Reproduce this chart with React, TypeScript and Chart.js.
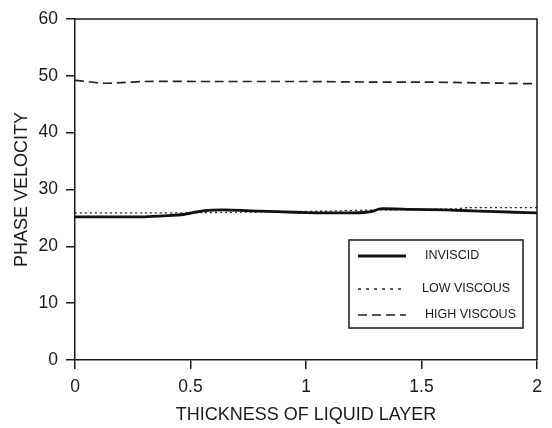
import React, { useEffect, useRef } from "react";
import { Chart, registerables } from "chart.js";

Chart.register(...registerables);

const seriesNames = ["INVISCID", "LOW VISCOUS", "HIGH VISCOUS"];

const inviscidX = [0, 0.15, 0.3, 0.4, 0.47, 0.52, 0.56, 0.65, 0.8, 0.95, 1.05, 1.2, 1.26, 1.29, 1.32, 1.45, 1.6, 1.75, 1.9, 2.0];
const inviscidY = [25.2, 25.2, 25.2, 25.4, 25.6, 26.0, 26.3, 26.4, 26.2, 26.0, 25.9, 25.9, 26.0, 26.2, 26.6, 26.5, 26.4, 26.2, 26.0, 25.9];

const lowX = [0, 0.3, 0.5, 0.7, 0.9, 1.1, 1.3, 1.5, 1.65, 1.7, 1.85, 2.0];
const lowY = [25.9, 25.9, 25.9, 26.0, 26.1, 26.2, 26.4, 26.5, 26.6, 26.8, 26.8, 26.8];

const highX = [0, 0.05, 0.12, 0.2, 0.3, 0.6, 1.0, 1.3, 1.5, 1.7, 1.85, 2.0];
const highY = [49.2, 49.0, 48.7, 48.8, 49.0, 49.0, 49.0, 48.9, 48.9, 48.8, 48.7, 48.6];

const xTicks = [0, 0.5, 1, 1.5, 2];
const yTicks = [0, 10, 20, 30, 40, 50, 60];

const xTitle = "THICKNESS OF LIQUID LAYER";
const yTitle = "PHASE VELOCITY";

const toPoints = (xs: number[], ys: number[]) => xs.map((x, i) => ({ x, y: ys[i] }));

const FONT = "'Liberation Sans', Arial, sans-serif";
const INK = "#1a1a1a";

const framePlugin = {
  id: "frame",
  afterDraw(chart: any) {
    const { ctx, chartArea } = chart;
    ctx.save();
    ctx.strokeStyle = INK;
    ctx.lineWidth = 1.5;
    ctx.beginPath();
    ctx.moveTo(chartArea.left, chartArea.top);
    ctx.lineTo(chartArea.right, chartArea.top);
    ctx.lineTo(chartArea.right, chartArea.bottom);
    ctx.stroke();
    ctx.restore();
  },
};

const legendDashes = [[], [3, 5], [9, 5]];

const legendPlugin = {
  id: "boxLegend",
  afterDraw(chart: any) {
    const { ctx, chartArea } = chart;
    const left = chartArea.right - 188;
    const top = chartArea.top + 221;
    const w = 174;
    const h = 88;
    ctx.save();
    ctx.fillStyle = "#fff";
    ctx.fillRect(left, top, w, h);
    ctx.strokeStyle = INK;
    ctx.lineWidth = 1.5;
    ctx.strokeRect(left, top, w, h);
    const rows = [16, 49, 75];
    const textX = [76, 73, 76];
    chart.data.datasets.forEach((ds: any, i: number) => {
      const y = top + rows[i];
      ctx.strokeStyle = ds.borderColor;
      ctx.lineWidth = Math.max(ds.borderWidth, 1.5);
      ctx.setLineDash(legendDashes[i]);
      ctx.beginPath();
      ctx.moveTo(left + 9, y);
      ctx.lineTo(left + 57, y);
      ctx.stroke();
      ctx.setLineDash([]);
      ctx.fillStyle = INK;
      ctx.font = `12.5px ${FONT}`;
      ctx.textBaseline = "middle";
      ctx.textAlign = "left";
      ctx.fillText(ds.label, left + textX[i], y);
    });
    ctx.restore();
  },
};

export default function App() {
  const ref = useRef<HTMLCanvasElement | null>(null);
  useEffect(() => {
    if (!ref.current) return;
    const chart = new Chart(ref.current, {
      type: "line",
      data: {
        datasets: [
          {
            label: seriesNames[0],
            data: toPoints(inviscidX, inviscidY),
            borderColor: "#111",
            borderWidth: 2.8,
            pointRadius: 0,
            tension: 0.2,
          },
          {
            label: seriesNames[1],
            data: toPoints(lowX, lowY),
            borderColor: "#222",
            borderWidth: 1.3,
            borderDash: [2, 3],
            pointRadius: 0,
            tension: 0.2,
          },
          {
            label: seriesNames[2],
            data: toPoints(highX, highY),
            borderColor: "#222",
            borderWidth: 1.7,
            borderDash: [9, 5],
            pointRadius: 0,
            tension: 0.2,
          },
        ],
      },
      options: {
        animation: false,
        responsive: true,
        maintainAspectRatio: false,
        layout: { padding: { top: 19, right: 15, left: 0, bottom: 0 } },
        plugins: { legend: { display: false }, tooltip: { enabled: false } },
        scales: {
          x: {
            type: "linear",
            min: 0,
            max: 2,
            afterBuildTicks: (scale: any) => {
              scale.ticks = xTicks.map((v) => ({ value: v }));
            },
            afterFit: (scale: any) => {
              scale.height = 68;
            },
            ticks: {
              color: INK,
              font: { family: FONT, size: 17.5 },
              padding: 8,
              maxRotation: 0,
              callback: (v: any) => String(v),
            },
            grid: { drawOnChartArea: false, drawTicks: true, tickLength: 9, color: INK, lineWidth: 1.5 },
            border: { display: true, color: INK, width: 1.5 },
            title: {
              display: true,
              text: xTitle,
              color: INK,
              font: { family: FONT, size: 18 },
              padding: { top: 0, bottom: 2 },
            },
          },
          y: {
            type: "linear",
            min: 0,
            max: 60,
            afterBuildTicks: (scale: any) => {
              scale.ticks = yTicks.map((v) => ({ value: v }));
            },
            afterFit: (scale: any) => {
              scale.width = 75;
            },
            ticks: {
              color: INK,
              font: { family: FONT, size: 17.5 },
              padding: 8,
            },
            grid: { drawOnChartArea: false, drawTicks: true, tickLength: 9, color: INK, lineWidth: 1.5 },
            border: { display: true, color: INK, width: 1.5 },
            title: {
              display: true,
              text: yTitle,
              color: INK,
              font: { family: FONT, size: 18 },
              padding: { top: 11, bottom: 0 },
            },
          },
        },
      },
      plugins: [framePlugin, legendPlugin],
    } as any);
    return () => chart.destroy();
  }, []);
  return (
    <div style={{ position: "fixed", left: 0, top: 0, width: 552, height: 428, background: "#fff" }}>
      <canvas ref={ref} />
    </div>
  );
}
